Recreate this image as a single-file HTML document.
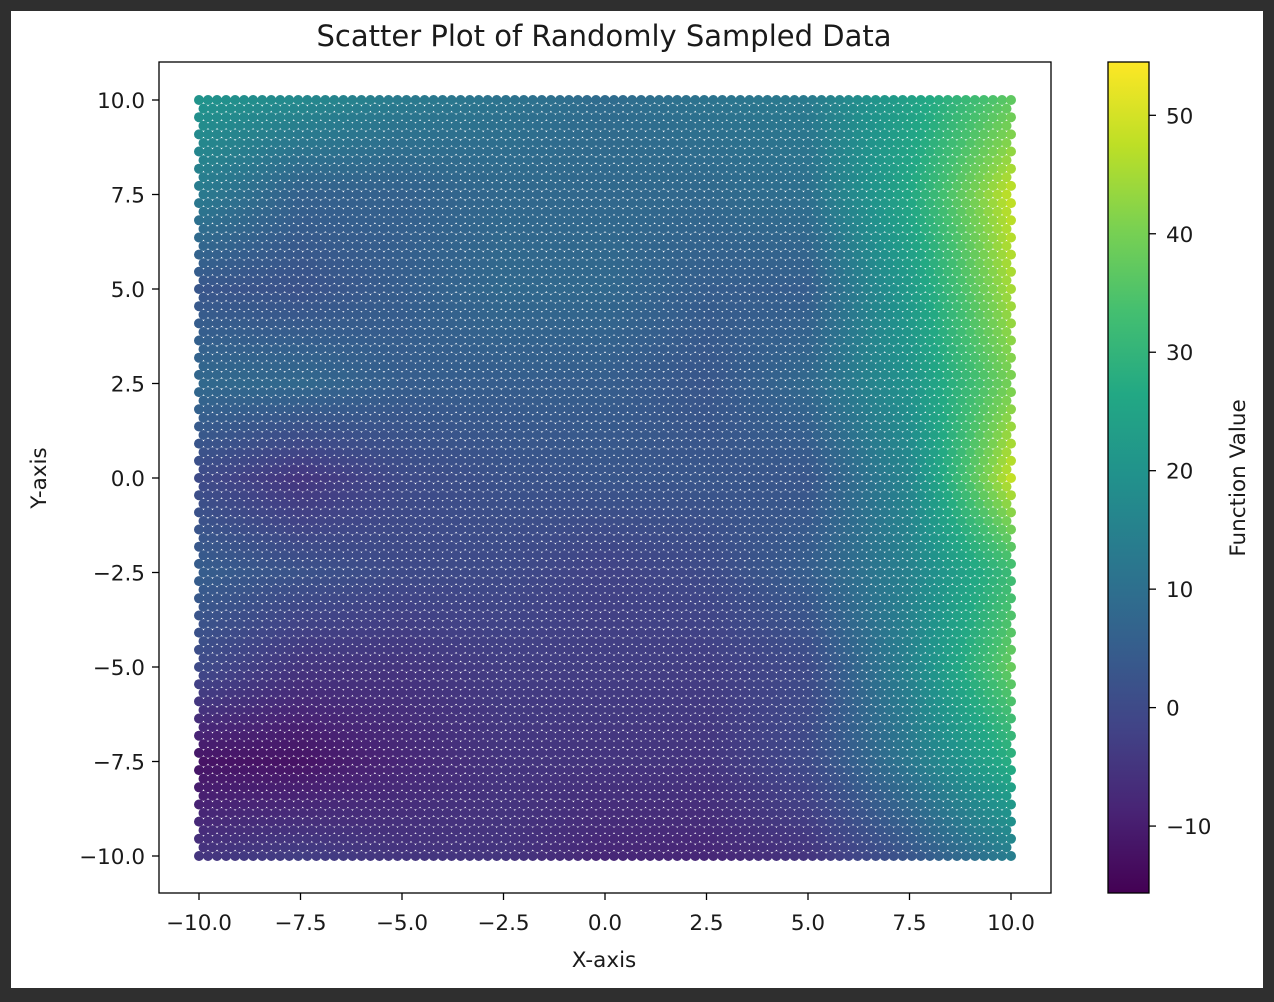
<!DOCTYPE html>
<html><head><meta charset="utf-8">
<style>
html,body{margin:0;padding:0;background:#2f2f2f;}
#wrap{position:relative;width:1274px;height:1002px;background:#2f2f2f;}
svg{position:absolute;left:0;top:0;}
text{font-family:"DejaVu Sans","Liberation Sans",sans-serif;fill:#1a1a1a;}
</style></head>
<body>
<div id="wrap">
<svg id="chart" width="1274" height="1002">
  <rect x="11" y="11" width="1252" height="977" fill="#fff"/>
  <defs>
    <linearGradient id="vir" x1="0" y1="1" x2="0" y2="0">
      <stop offset="0" stop-color="#440154"/><stop offset="0.1" stop-color="#482475"/>
      <stop offset="0.2" stop-color="#414487"/><stop offset="0.3" stop-color="#355f8d"/>
      <stop offset="0.4" stop-color="#2a788e"/><stop offset="0.5" stop-color="#21918c"/>
      <stop offset="0.6" stop-color="#22a884"/><stop offset="0.7" stop-color="#44bf70"/>
      <stop offset="0.8" stop-color="#7ad151"/><stop offset="0.9" stop-color="#bddf26"/>
      <stop offset="1" stop-color="#fde725"/>
    </linearGradient>
    <clipPath id="clip"><rect x="159" y="62" width="892" height="831"/></clipPath>
  </defs>
  <g id="points" clip-path="url(#clip)"></g>
  <rect x="159" y="62" width="892" height="831" fill="none" stroke="#000" stroke-width="1.3"/>
  <g id="axes"></g>
  <text x="604" y="46" font-size="29" text-anchor="middle">Scatter Plot of Randomly Sampled Data</text>
  <text x="604" y="967" font-size="21.5" text-anchor="middle">X-axis</text>
  <text x="0" y="0" font-size="21.5" text-anchor="middle" transform="translate(46,478) rotate(-90)">Y-axis</text>
  <rect x="1108" y="62" width="41" height="831" fill="url(#vir)" stroke="#000" stroke-width="1.3"/>
  <g id="cbaxis"></g>
  <text x="0" y="0" font-size="21.5" text-anchor="middle" transform="translate(1245,478) rotate(-90)">Function Value</text>
</svg>
</div>
<script>
const xTicks = [-10,-7.5,-5,-2.5,0,2.5,5,7.5,10];
const yTicks = [-10,-7.5,-5,-2.5,0,2.5,5,7.5,10];
const cbTicks = [-10,0,10,20,30,40,50];
const gridX = [-10,-7.5,-5,-2.5,0,2.5,5,7.5,10];
const gridY = [10,7.5,5,2.5,0,-2.5,-5,-7.5,-10];
const gridValues = [
  [20,17,13,11,9,11,13,24,37],
  [13,6,6,8,8,8,10,26,48],
  [3,2,5,8,8,5,5,22,45],
  [8,8,5,5,5,3,8,20,40],
  [0,-5,0,2,3,3,3,16,48],
  [5,2,0,0,-2,0,5,15,32],
  [0,-5,-5,-3,-3,-3,0,15,38],
  [-12,-12,-8,-5,-5,-5,0,12,28],
  [-5,-3,-5,-5,-8,-8,-5,3,14]
];
const vMin = -15.65, vMax = 54.5;

const xs = v => 199 + (v + 10) * 40.6;
const ys = v => 856 - (v + 10) * 37.8;
const cs = v => 893 - (v - vMin) / (vMax - vMin) * 831;

const vir = [[68,1,84],[72,36,117],[65,68,135],[53,95,141],[42,120,142],[33,145,140],[34,168,132],[68,191,112],[122,209,81],[189,223,38],[253,231,37]];
function color(v){
  let t = Math.max(0, Math.min(1, (v - vMin) / (vMax - vMin))) * 10;
  const i = Math.min(9, Math.floor(t)), f = t - i;
  const c = vir[i].map((a,k)=>Math.round(a + (vir[i+1][k]-a)*f));
  return `rgb(${c[0]},${c[1]},${c[2]})`;
}
function valueAt(x,y){
  const fx = (x + 10) / 2.5, fy = (10 - y) / 2.5;
  const i = Math.min(7, Math.max(0, Math.floor(fx))), j = Math.min(7, Math.max(0, Math.floor(fy)));
  const tx = fx - i, ty = fy - j;
  const a = gridValues[j][i], b = gridValues[j][i+1], c = gridValues[j+1][i], d = gridValues[j+1][i+1];
  return a*(1-tx)*(1-ty) + b*tx*(1-ty) + c*(1-tx)*ty + d*tx*ty;
}
const NS = "http://www.w3.org/2000/svg";
const pg = document.getElementById('points');
const NR = 88, NC = 90;
for (let r = 0; r <= NR; r++) {
  const y = -10 + 20 * r / NR;
  const off = (r % 2) ? 0.5 : 0;
  for (let k = 0; k + off <= NC; k++) {
    const x = -10 + 20 * (k + off) / NC;
    const c = document.createElementNS(NS, 'circle');
    c.setAttribute('cx', xs(x).toFixed(1));
    c.setAttribute('cy', ys(y).toFixed(1));
    c.setAttribute('r', 5);
    c.setAttribute('fill', color(valueAt(x, y)));
    
    
    pg.appendChild(c);
  }
}
const ax = document.getElementById('axes');
function fmt(v){ return (v < 0 ? '\u2212' : '') + Math.abs(v).toFixed(1); }
xTicks.forEach(v => {
  const l = document.createElementNS(NS,'line');
  l.setAttribute('x1', xs(v)); l.setAttribute('x2', xs(v));
  l.setAttribute('y1', 893); l.setAttribute('y2', 900);
  l.setAttribute('stroke', '#000'); l.setAttribute('stroke-width', 1.3);
  
  
  ax.appendChild(l);
  const t = document.createElementNS(NS,'text');
  t.setAttribute('x', xs(v)); t.setAttribute('y', 930);
  t.setAttribute('font-size', 21.5); t.setAttribute('text-anchor', 'middle');
  t.textContent = fmt(v);
  
  
  ax.appendChild(t);
});
yTicks.forEach(v => {
  const l = document.createElementNS(NS,'line');
  l.setAttribute('x1', 152); l.setAttribute('x2', 159);
  l.setAttribute('y1', ys(v)); l.setAttribute('y2', ys(v));
  l.setAttribute('stroke', '#000'); l.setAttribute('stroke-width', 1.3);
  
  
  ax.appendChild(l);
  const t = document.createElementNS(NS,'text');
  t.setAttribute('x', 145); t.setAttribute('y', ys(v) + 8);
  t.setAttribute('font-size', 21.5); t.setAttribute('text-anchor', 'end');
  t.textContent = fmt(v);
  
  
  ax.appendChild(t);
});
const cb = document.getElementById('cbaxis');
cbTicks.forEach(v => {
  const l = document.createElementNS(NS,'line');
  l.setAttribute('x1', 1149); l.setAttribute('x2', 1156);
  l.setAttribute('y1', cs(v)); l.setAttribute('y2', cs(v));
  l.setAttribute('stroke', '#000'); l.setAttribute('stroke-width', 1.3);
  
  
  cb.appendChild(l);
  const t = document.createElementNS(NS,'text');
  t.setAttribute('x', 1166); t.setAttribute('y', cs(v) + 8);
  t.setAttribute('font-size', 21.5);
  t.textContent = (v < 0 ? '\u2212' : '') + Math.abs(v);
  
  
  cb.appendChild(t);
});
</script>
</body></html>
